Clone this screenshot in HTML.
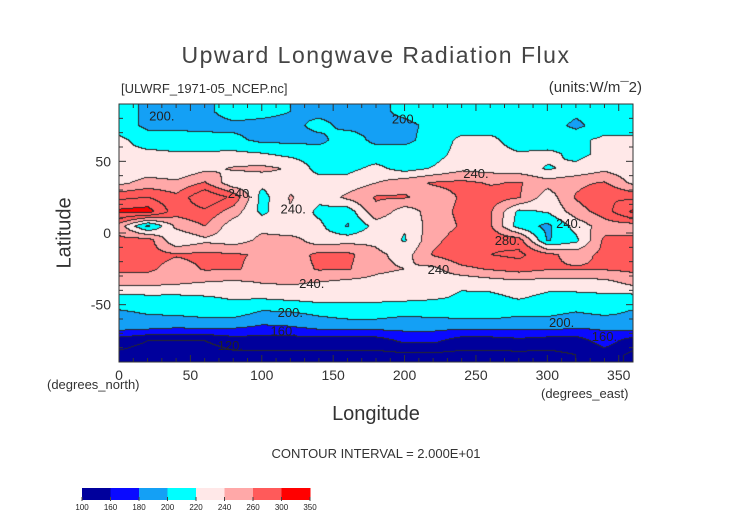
<!DOCTYPE html>
<html><head><meta charset="utf-8">
<style>
body{margin:0;background:#fff;width:752px;height:532px;overflow:hidden;position:relative;font-family:"Liberation Sans",sans-serif;color:#222}
.t{position:absolute;white-space:nowrap;font-weight:300}
</style></head>
<body>
<div class="t" style="left:0;width:752px;text-align:center;top:42px;font-size:23px;letter-spacing:1.5px;color:#444">Upward Longwave Radiation Flux</div>
<div class="t" style="left:121px;top:81px;font-size:13px;color:#333">[ULWRF_1971-05_NCEP.nc]</div>
<div class="t" style="right:110px;top:79px;font-size:15px;color:#333">(units:W/m¯2)</div>
<canvas id="map" width="514" height="258" style="position:absolute;left:119px;top:104px"></canvas>
<svg id="ax" width="752" height="532" style="position:absolute;left:0;top:0"></svg>
<div class="t" style="left:30px;top:222px;font-size:20px;transform:rotate(-90deg);transform-origin:center;width:70px;text-align:center;color:#333">Latitude</div>
<div class="t" style="left:47px;top:377px;font-size:13px;color:#333">(degrees_north)</div>
<div class="t" style="left:541px;top:386px;font-size:13px;color:#333">(degrees_east)</div>
<div class="t" style="left:0;width:752px;text-align:center;top:403px;font-size:20px;color:#333">Longitude</div>
<div class="t" style="left:0;width:752px;text-align:center;top:446px;font-size:13px;color:#333">CONTOUR INTERVAL = 2.000E+01</div>
<script>
const levels=[100,160,180,200,220,240,260,300,350];
const colors=["#00009c","#0a0aff","#14a0f5","#00ffff","#ffe8e8","#ffa8a8","#ff5a5a","#ff0000"];
const lons=[0,20,40,60,80,100,120,140,160,180,200,220,240,260,280,300,320,340];
const lats=[85,75,65,55,45,35,25,15,5,-5,-15,-25,-35,-45,-55,-65,-75,-85];
const r85=[210,195,195,195,210,205,200,195,195,195,205,210,210,210,210,210,205,210];
const r75=[210,195,195,192,195,195,195,205,195,195,195,205,210,210,210,210,195,210];
const r65=[225,210,210,210,205,195,195,195,210,195,195,208,225,225,210,208,215,225];
const r55=[225,225,222,222,225,222,215,210,210,210,210,212,228,228,222,225,215,225];
const r45=[225,228,222,235,242,245,238,212,215,225,212,222,235,232,228,218,225,235];
const r35=[235,248,245,262,225,225,232,230,228,240,252,262,265,258,262,248,255,262];
const r25=[275,280,265,300,275,212,242,225,245,262,262,250,262,270,262,228,262,280];
const r15=[305,310,268,275,250,215,238,215,208,255,228,250,265,262,215,222,250,270];
const r5=[250,195,245,260,228,235,220,225,198,228,222,250,262,262,210,195,228,250];
const rm5=[265,270,222,235,230,245,250,228,232,235,218,255,270,275,270,198,215,265];
const rm15=[270,268,262,265,262,258,250,265,265,245,232,262,275,280,285,265,252,265];
const rm25=[265,265,250,262,262,255,250,262,262,245,240,235,255,262,268,262,262,262];
const rm35=[245,245,242,238,235,240,242,238,232,232,228,226,222,228,232,228,228,232];
const rm45=[212,215,215,218,222,222,225,228,226,225,225,222,218,215,222,215,215,215];
const rm55=[198,202,205,208,210,198,200,205,210,210,205,208,210,210,205,205,200,205];
const rm65=[192,190,185,188,185,178,180,188,190,190,188,188,188,190,188,190,185,185];
const rm75=[150,140,140,140,150,150,150,150,150,150,165,165,150,150,155,150,150,170];
const rm85=[135,130,130,130,135,135,135,135,135,135,135,135,135,135,135,135,140,150];
const grid=[r85,r75,r65,r55,r45,r35,r25,r15,r5,rm5,rm15,rm25,rm35,rm45,rm55,rm65,rm75,rm85];

const X0=119,X1=633,Y0=104,Y1=362;
const xOf=l=>X0+(l/360)*(X1-X0);
const yOf=la=>Y0+((90-la)/180)*(Y1-Y0);
function val(lon,lat){
  let fi=(90-lat)/10-0.5; fi=Math.max(0,Math.min(lats.length-1,fi));
  const i0=Math.floor(fi),i1=Math.min(lats.length-1,i0+1),ty=fi-i0;
  let fj=lon/20; const n=lons.length;
  const j0=Math.floor(fj)%n,j1=(j0+1)%n,tx=fj-Math.floor(fj);
  const a=grid[i0][j0]*(1-tx)+grid[i0][j1]*tx;
  const b=grid[i1][j0]*(1-tx)+grid[i1][j1]*tx;
  return a*(1-ty)+b*ty;
}
function hex(c){return[parseInt(c.substr(1,2),16),parseInt(c.substr(3,2),16),parseInt(c.substr(5,2),16)]}
const rgb=colors.map(hex);
const cv=document.getElementById('map');const ctx=cv.getContext('2d');
const W=cv.width,H=cv.height;const img=ctx.createImageData(W,H);
const cls=new Int16Array(W*H),lv=new Int16Array(W*H);
for(let y=0;y<H;y++)for(let x=0;x<W;x++){
  const lon=x/W*360,lat=90-y/H*180;const v=val(lon,lat);
  let k=0;while(k<levels.length-2&&v>=levels[k+1])k++;
  cls[y*W+x]=k;lv[y*W+x]=Math.floor(v/20);
}
for(let y=0;y<H;y++)for(let x=0;x<W;x++){
  const p=y*W+x;let c=rgb[cls[p]];
  const edge=(x<W-1&&lv[p]!==lv[p+1])||(y<H-1&&lv[p]!==lv[p+W]);
  if(edge)c=[40,40,40];
  img.data[p*4]=c[0];img.data[p*4+1]=c[1];img.data[p*4+2]=c[2];img.data[p*4+3]=255;
}
ctx.putImageData(img,0,0);

const NS='http://www.w3.org/2000/svg';const svg=document.getElementById('ax');
function mk(tag,at){const e=document.createElementNS(NS,tag);for(const k in at)e.setAttribute(k,at[k]);svg.appendChild(e);return e;}
const fr=mk('rect',{x:X0,y:Y0,width:X1-X0,height:Y1-Y0,fill:'none',stroke:'#333','stroke-width':1});


for(let l=0;l<=360;l+=10){const x=xOf(l),L=l%50===0?7:4;
  mk('line',{x1:x,y1:Y1,x2:x,y2:Y1-L,stroke:'#333'});mk('line',{x1:x,y1:Y0,x2:x,y2:Y0+L,stroke:'#333'});}
for(let la=-90;la<=90;la+=10){const y=yOf(la),L=la%50===0?7:4;
  mk('line',{x1:X0,y1:y,x2:X0+L,y2:y,stroke:'#333'});mk('line',{x1:X1,y1:y,x2:X1-L,y2:y,stroke:'#333'});}
const xt=[0,50,100,150,200,250,300,350];
xt.forEach(l=>{const t=mk('text',{x:xOf(l),y:Y1+18,'text-anchor':'middle','font-size':14,'font-family':'Liberation Sans',fill:'#333'});t.textContent=l;
  
  });
const yt=[50,0,-50];
yt.forEach(la=>{const t=mk('text',{x:X0-8,y:yOf(la)+5,'text-anchor':'end','font-size':14,'font-family':'Liberation Sans',fill:'#333'});t.textContent=la;
  
  });
const clabels=[[30,82,'200.'],[200,80,'200.'],[250,42,'240.'],[85,28,'240.'],[122,17,'240.'],[135,-35,'240.'],[225,-25,'240.'],[315,7,'240.'],[272,-5,'280.'],[120,-55,'200.'],[310,-62,'200.'],[115,-68,'160.'],[78,-78,'120.'],[340,-72,'160.']];
clabels.forEach(c=>{const t=mk('text',{x:xOf(c[0]),y:yOf(c[1])+5,'text-anchor':'middle','font-size':13,'font-family':'Liberation Sans',fill:'#222'});t.textContent=c[2];
  
  });
const CB0=82,CB1=310,CBy=488,CBh=12;const bw=(CB1-CB0)/colors.length;
colors.forEach((c,i)=>{const r=mk('rect',{x:CB0+i*bw,y:CBy,width:bw+0.5,height:CBh,fill:c});
  
  });
const cbl=[100,160,180,200,220,240,260,300,350];
cbl.forEach((v,i)=>{const x=CB0+i*bw;mk('line',{x1:x,y1:CBy+CBh-3,x2:x,y2:CBy+CBh+1,stroke:'#444'});
  const t=mk('text',{x:x,y:CBy+CBh+10,'text-anchor':'middle','font-size':8,'font-family':'Liberation Sans',fill:'#222'});t.textContent=v;
  
  });
</script>
</body></html>
